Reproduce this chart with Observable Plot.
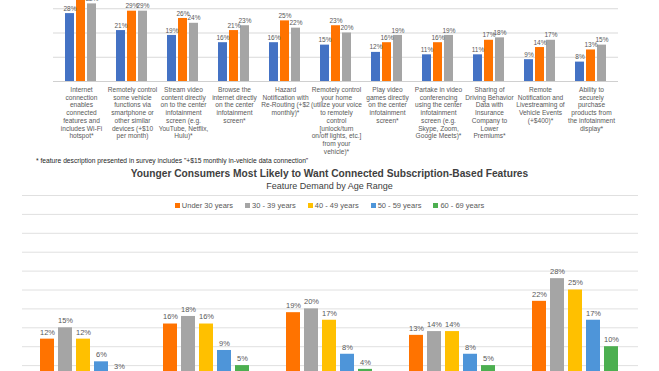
<!DOCTYPE html>
<html>
<head>
<meta charset="utf-8">
<script src="https://cdn.jsdelivr.net/npm/d3@7"></script>
<script src="https://cdn.jsdelivr.net/npm/@observablehq/plot@0.6"></script>
<style>
  html, body { margin: 0; padding: 0; background: #fff; }
  body { width: 659px; height: 371px; overflow: hidden; position: relative; font-family: "Liberation Sans", Arial, sans-serif; }
  .abs { position: absolute; }
  .abs svg { position: absolute; left: 0; top: 0; }
  #foot { left: 36px; top: 157px; font-size: 6.7px; color: #262626; white-space: nowrap; }
  #title { left: 0; width: 659px; top: 168px; text-align: center; font-size: 10.2px; font-weight: bold; color: #404040; white-space: nowrap; }
  #subtitle { left: 0; width: 659px; top: 181px; text-align: center; font-size: 9px; color: #404040; white-space: nowrap; }
  #legend { left: 0; width: 659px; top: 201px; display: flex; justify-content: center; gap: 12px; font-size: 7.5px; color: #595959; white-space: nowrap; }
  #legend span.sw { display: inline-block; width: 5px; height: 5px; margin-right: 2px; vertical-align: 0px; }
</style>
</head>
<body>
<div id="top" class="abs" style="left:0;top:-36px;width:659px;height:192px"></div>
<div id="foot" class="abs">* feature description presented in survey includes "+$15 monthly in-vehicle data connection"</div>
<div id="title" class="abs">Younger Consumers Most Likely to Want Connected Subscription-Based Features</div>
<div id="subtitle" class="abs">Feature Demand by Age Range</div>
<div id="bottom" class="abs" style="left:0;top:190px;width:659px;height:204px"></div>
<div id="legend" class="abs"></div>
<script>
// ---------- Top chart data ----------
const features = [
  "Internet\nconnection\nenables\nconnected\nfeatures and\nincludes Wi-Fi\nhotspot*",
  "Remotely control\nsome vehicle\nfunctions via\nsmartphone or\nother similar\ndevices (+$10\nper month)",
  "Stream video\ncontent directly\non to the center\ninfotainment\nscreen (e.g.\nYouTube, Netflix,\nHulu)*",
  "Browse the\ninternet directly\non the center\ninfotainment\nscreen*",
  "Hazard\nNotification with\nRe-Routing (+$2\nmonthly)*",
  "Remotely control\nyour home\n(utilize your voice\nto remotely\ncontrol\n[unlock/turn\non/off lights, etc.]\nfrom your\nvehicle)*",
  "Play video\ngames directly\non the center\ninfotainment\nscreen*",
  "Partake in video\nconferencing\nusing the center\ninfotainment\nscreen (e.g.\nSkype, Zoom,\nGoogle Meets)*",
  "Sharing of\nDriving Behavior\nData with\nInsurance\nCompany to\nLower\nPremiums*",
  "Remote\nNotification and\nLivestreaming of\nVehicle Events\n(+$400)*",
  "Ability to\nsecurely\npurchase\nproducts from\nthe infotainment\ndisplay*"
];
const topSeries = ["Series A", "Series B", "Series C"];
const topBlue   = [28, 21, 19, 16, 16, 15, 12, 11, 11, 9, 8];
const topOrange = [35, 29, 26, 21, 25, 23, 16, 16, 17, 14, 13];
const topGray   = [32, 29, 24, 23, 22, 20, 19, 19, 18, 17, 15];
const topColors = ["#4472C4", "#FF7300", "#A5A5A5"];
const topTicks  = [10, 20, 30, 40];

// ---------- Bottom chart data ----------
const groups = ["Group 1", "Group 2", "Group 3", "Group 4", "Group 5"];
const ages = ["Under 30 years", "30 - 39 years", "40 - 49 years", "50 - 59 years", "60 - 69 years"];
const under30 = [12, 16, 19, 13, 22];
const age30s  = [15, 18, 20, 14, 28];
const age40s  = [12, 16, 17, 14, 25];
const age50s  = [6, 9, 8, 8, 17];
const age60s  = [3, 5, 4, 5, 10];
const ageColors = ["#FF7300", "#A5A5A5", "#FFC000", "#4E95D9", "#4CAF50"];
const bottomTicks = [5, 10, 15, 20, 25, 30, 35, 40, 45, 50];

const font = "'Liberation Sans', Arial, sans-serif";

// tidy tables
const topValues = [topBlue, topOrange, topGray];
const topData = [];
features.forEach((f, i) => topSeries.forEach((s, j) => topData.push({feature: f, series: s, value: topValues[j][i]})));

const ageValues = [under30, age30s, age40s, age50s, age60s];
const botData = [];
groups.forEach((g, i) => ages.forEach((a, j) => botData.push({group: g, age: a, value: ageValues[j][i]})));

const topDims = {width: 659, height: 192, marginTop: 20, marginBottom: 75, marginLeft: 53, marginRight: 41};
const botDims = {width: 659, height: 204, marginTop: 5, marginBottom: 10, marginLeft: 22, marginRight: 21};

// gridline layers (non-faceted so lines run continuously)
const topGrid = Plot.plot({
  ...topDims,
  style: {background: "transparent"},
  x: {axis: null}, y: {domain: [0, 40], axis: null},
  marks: [
    Plot.ruleY(topTicks, {stroke: "#d9d9d9", strokeWidth: 1}),
    Plot.ruleY([0], {stroke: "#d0d0d0", strokeWidth: 1})
  ]
});
document.getElementById("top").appendChild(topGrid);

const topChart = Plot.plot({
  ...topDims,
  style: {fontFamily: font, background: "transparent", overflow: "visible"},
  fx: {domain: features, paddingInner: 0.376, paddingOuter: 0.188, label: null},
  x: {domain: topSeries, paddingInner: 0.14, paddingOuter: 0, axis: null},
  y: {domain: [0, 40], axis: null},
  color: {domain: topSeries, range: topColors},
  marks: [
    Plot.barY(topData, {fx: "feature", x: "series", y: "value", fill: "series"}),
    Plot.text(topData, {fx: "feature", x: "series", y: "value", text: d => d.value + "%", dy: -5, fontSize: 6.5, fill: "#595959"}),
    Plot.axisFx({anchor: "bottom", tickSize: 0, tickPadding: 5, fontSize: 6.6, lineHeight: 1.17, fill: "#595959", label: null})
  ]
});
document.getElementById("top").appendChild(topChart);

const botGrid = Plot.plot({
  ...botDims,
  style: {background: "transparent"},
  x: {axis: null}, y: {domain: [0, 50], axis: null},
  marks: [Plot.ruleY(bottomTicks, {stroke: "#e0e0e0", strokeWidth: 1})]
});
document.getElementById("bottom").appendChild(botGrid);

const botChart = Plot.plot({
  ...botDims,
  style: {fontFamily: font, background: "transparent", overflow: "visible"},
  fx: {domain: groups, paddingInner: 0.26, paddingOuter: 0.13, axis: null, label: null},
  x: {domain: ages, paddingInner: 0.21, paddingOuter: 0, axis: null},
  y: {domain: [0, 50], axis: null},
  color: {domain: ages, range: ageColors},
  marks: [
    Plot.barY(botData, {fx: "group", x: "age", y: "value", fill: "age"}),
    Plot.text(botData, {fx: "group", x: "age", y: "value", text: d => d.value + "%", dy: -7, fontSize: 7.5, fill: "#595959"})
  ]
});
document.getElementById("bottom").appendChild(botChart);

// legend
const leg = document.getElementById("legend");
ages.forEach((a, i) => {
  const item = document.createElement("div");
  item.innerHTML = `<span class="sw" style="background:${ageColors[i]}"></span>${a}`;
  leg.appendChild(item);
});
</script>
</body>
</html>
